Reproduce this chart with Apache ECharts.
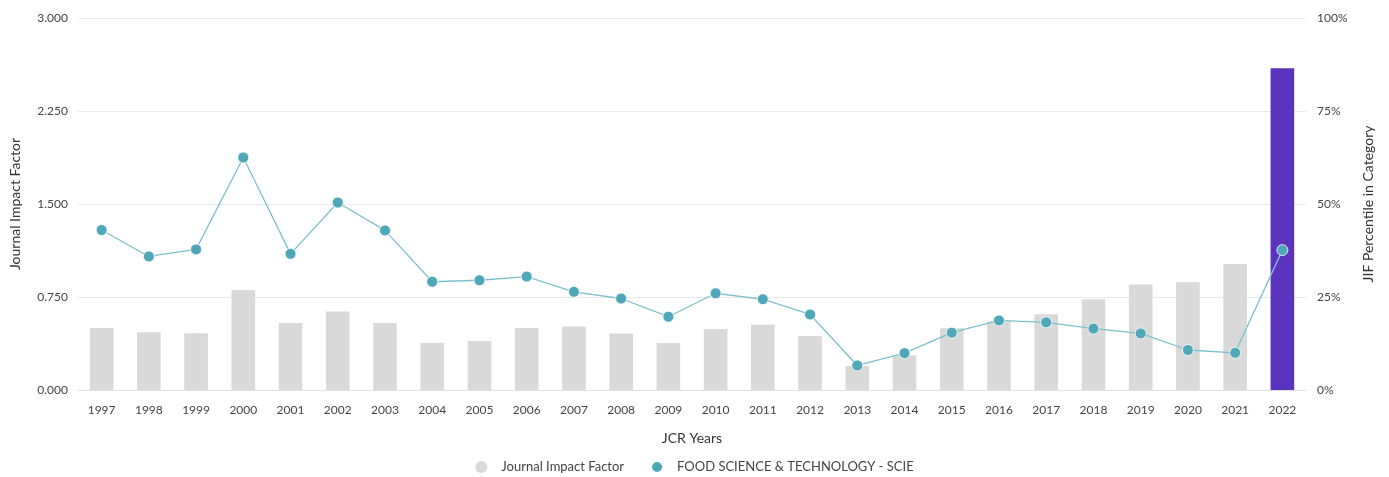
<!DOCTYPE html>
<html>
<head>
<meta charset="utf-8">
<script src="https://cdn.jsdelivr.net/npm/echarts@6/dist/echarts.min.js"></script>
<style>html,body{margin:0;padding:0;background:#fff;}#c{width:1389px;height:477px;}</style>
</head>
<body>
<div id="c"></div>
<script>
const years = ['1997','1998','1999','2000','2001','2002','2003','2004','2005','2006','2007','2008','2009','2010','2011','2012','2013','2014','2015','2016','2017','2018','2019','2020','2021','2022'];
const jif = [0.500,0.465,0.457,0.806,0.540,0.633,0.540,0.381,0.395,0.500,0.512,0.455,0.379,0.492,0.526,0.435,0.194,0.279,0.498,0.554,0.611,0.732,0.850,0.869,1.016,2.595];
const percentile = [43.0,35.9,37.8,62.5,36.6,50.4,42.9,29.1,29.5,30.5,26.4,24.6,19.7,26.0,24.4,20.3,6.6,9.9,15.4,18.7,18.2,16.5,15.2,10.75,10.0,37.6];
const leftTicks = {min:0, max:3, interval:0.75};
const rightTicks = {min:0, max:100, interval:25};
const highlightYear = '2022';

const FONT = 'Lato';
const chart = echarts.init(document.getElementById('c'));
chart.setOption({
  animation:false,
  textStyle:{fontFamily:FONT},
  grid:{left:75,right:83,top:18,bottom:87,containLabel:false},
  legend:{
    bottom:3,left:'center',padding:0,itemGap:26,itemWidth:12,itemHeight:12,
    textStyle:{fontFamily:FONT,fontSize:13,color:'#444',padding:[0,0,0,9]},
    data:[{name:'Journal Impact Factor',icon:'circle',itemStyle:{color:'#d9d9d9'}},
          {name:'FOOD SCIENCE & TECHNOLOGY - SCIE',icon:'circle',itemStyle:{color:'#4fa7ba'}}]
  },
  xAxis:{
    type:'category',data:years,
    name:'JCR Years',nameLocation:'middle',nameGap:41,
    nameTextStyle:{fontFamily:FONT,fontSize:14,color:'#333'},
    axisLine:{lineStyle:{color:'#e3e3e3'}},
    axisTick:{show:false},
    axisLabel:{color:'#444',fontSize:12,margin:14,interval:0}
  },
  yAxis:[{
    type:'value',min:leftTicks.min,max:leftTicks.max,interval:leftTicks.interval,
    name:'Journal Impact Factor',nameLocation:'middle',nameGap:56,
    nameTextStyle:{fontFamily:FONT,fontSize:14,color:'#333'},
    axisLabel:{color:'#444',fontSize:12,margin:10,formatter:v=>v.toFixed(3)},
    splitLine:{lineStyle:{color:'#e8e8e8'}},
    axisLine:{show:false},axisTick:{show:false}
  },{
    type:'value',min:rightTicks.min,max:rightTicks.max,interval:rightTicks.interval,
    name:'JIF Percentile in Category',nameLocation:'middle',nameGap:55,nameRotate:90,
    nameTextStyle:{fontFamily:FONT,fontSize:14,color:'#333'},
    axisLabel:{color:'#444',fontSize:12,margin:11,formatter:'{value}%'},
    splitLine:{show:false},
    axisLine:{show:false},axisTick:{show:false}
  }],
  series:[{
    name:'Journal Impact Factor',type:'bar',yAxisIndex:0,barWidth:'50%',
    itemStyle:{color:'#d9d9d9'},
    data:jif.map((v,i)=>years[i]===highlightYear?{value:v,itemStyle:{color:'#5c33be'}}:v)
  },{
    name:'FOOD SCIENCE & TECHNOLOGY - SCIE',type:'line',yAxisIndex:1,
    symbol:'circle',symbolSize:11,
    lineStyle:{color:'#7dc0cd',width:1.3},
    itemStyle:{color:'#4fa7ba',borderColor:'#fff',borderWidth:0.8},
    data:percentile
  }]
});
</script>
</body>
</html>
